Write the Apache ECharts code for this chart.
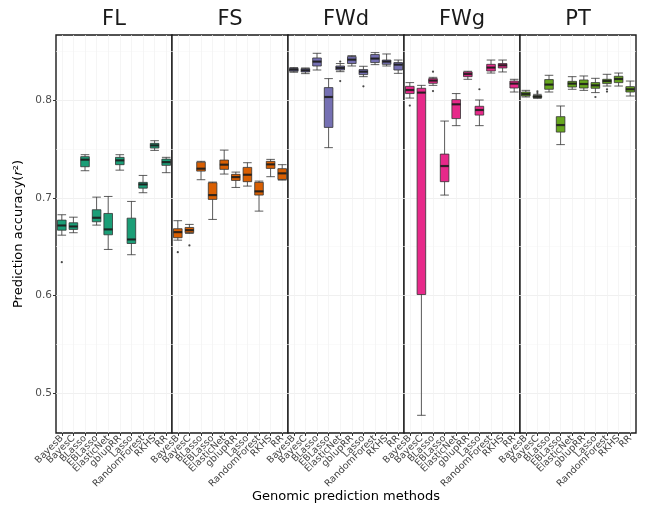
<!DOCTYPE html>
<html>
<head>
<meta charset="utf-8">
<script src="https://cdn.jsdelivr.net/npm/echarts@6/dist/echarts.min.js"></script>
<style>html,body{margin:0;padding:0;background:#fff}#c{width:650px;height:517px}</style>
</head>
<body>
<div id="c"></div>
<script>
const methods = ['BayesB','BayesC','BLasso','EBLasso','ElasticNet','gblupRR','Lasso','RandomForest','RKHS','RR'];
const traits = ['FL','FS','FWd','FWg','PT'];
const traitColors = ['#1b9e77','#d95f02','#7570b3','#e7298a','#66a61e'];
const yTicks = [0.5, 0.6, 0.7, 0.8];
const yMinor = [0.55, 0.65, 0.75, 0.85];

// [min, Q1, median, Q3, max] per method
const statsFL = [
  [0.6618,0.6669,0.6717,0.6772,0.6827],
  [0.6643,0.6677,0.6707,0.6745,0.6802],
  [0.7277,0.7318,0.7390,0.7421,0.7441],
  [0.6721,0.6755,0.6796,0.6878,0.7007],
  [0.6472,0.6622,0.6677,0.6840,0.7014],
  [0.7283,0.7339,0.7383,0.7414,0.7441],
  [0.6418,0.6533,0.6574,0.6792,0.6963],
  [0.7052,0.7099,0.7137,0.7158,0.7229],
  [0.7485,0.7509,0.7536,0.7557,0.7584],
  [0.7257,0.7332,0.7365,0.7396,0.7414]
];
const statsFS = [
  [0.6567,0.6592,0.6649,0.6684,0.6766],
  [0.6636,0.6643,0.6669,0.6697,0.6728],
  [0.7185,0.7273,0.7298,0.7365,0.7373],
  [0.6779,0.6984,0.7028,0.7154,0.7161],
  [0.7243,0.7291,0.7339,0.7386,0.7488],
  [0.7106,0.7178,0.7212,0.7240,0.7263],
  [0.7120,0.7165,0.7236,0.7311,0.7359],
  [0.6864,0.7028,0.7066,0.7158,0.7171],
  [0.7216,0.7301,0.7342,0.7373,0.7393],
  [0.7181,0.7188,0.7250,0.7298,0.7339]
];
const statsFWd = [
  [0.8284,0.8294,0.8311,0.8324,0.8332],
  [0.8270,0.8287,0.8304,0.8321,0.8328],
  [0.8307,0.8348,0.8393,0.8430,0.8478],
  [0.7513,0.7720,0.8031,0.8127,0.8219],
  [0.8290,0.8307,0.8328,0.8348,0.8373],
  [0.8348,0.8373,0.8413,0.8444,0.8454],
  [0.8239,0.8260,0.8290,0.8311,0.8345],
  [0.8362,0.8383,0.8424,0.8465,0.8485],
  [0.8348,0.8365,0.8393,0.8409,0.8471],
  [0.8273,0.8307,0.8362,0.8383,0.8409]
];
const statsFWg = [
  [0.8020,0.8066,0.8102,0.8140,0.8178],
  [0.4776,0.6011,0.8076,0.8120,0.8150],
  [0.8150,0.8171,0.8199,0.8219,0.8232],
  [0.7028,0.7165,0.7325,0.7447,0.7785],
  [0.7738,0.7810,0.7956,0.8004,0.8066],
  [0.8212,0.8239,0.8266,0.8287,0.8294],
  [0.7738,0.7846,0.7898,0.7936,0.8000],
  [0.8276,0.8297,0.8332,0.8365,0.8409],
  [0.8287,0.8328,0.8355,0.8373,0.8409],
  [0.8082,0.8123,0.8168,0.8194,0.8212]
];
const statsPT = [
  [0.8031,0.8041,0.8061,0.8082,0.8099],
  [0.8017,0.8025,0.8035,0.8045,0.8058],
  [0.8082,0.8110,0.8158,0.8209,0.8253],
  [0.7544,0.7672,0.7744,0.7830,0.7939],
  [0.8110,0.8133,0.8168,0.8191,0.8239],
  [0.8099,0.8123,0.8164,0.8205,0.8246],
  [0.8076,0.8120,0.8150,0.8178,0.8222],
  [0.8143,0.8168,0.8194,0.8212,0.8263],
  [0.8143,0.8178,0.8215,0.8243,0.8276],
  [0.8041,0.8082,0.8110,0.8137,0.8194]
];
// outliers: [method index, value]
const outFL = [[0,0.6342]];
const outFS = [[0,0.6444],[1,0.6513]];
const outFWd = [[4,0.8393],[4,0.8194],[6,0.8140]];
const outFWg = [[0,0.7943],[2,0.8290],[2,0.8092],[6,0.8110]];
const outPT = [[1,0.8089],[1,0.8072],[6,0.8031],[7,0.8110],[7,0.8086]];

const allStats = [statsFL, statsFS, statsFWd, statsFWg, statsPT];
const allOut = [outFL, outFS, outFWd, outFWg, outPT];

const FONT = 'DejaVu Sans';
const panelLeft = 56, panelW = 116, panelTop = 35, panelH = 398;
const boxW = 8.6;

const grids = [], xAxes = [], yAxes = [], series = [], graphics = [];
traits.forEach((t, i) => {
  grids.push({left: panelLeft + i*panelW, top: panelTop, width: panelW, height: panelH,
    show: true, borderColor: '#1a1a1a', borderWidth: 1.4, backgroundColor: '#fff', containLabel: false});
  xAxes.push({type: 'category', gridIndex: i, data: methods, boundaryGap: true,
    axisLine: {show: false},
    axisTick: {show: true, alignWithLabel: true, length: 3, lineStyle: {color: '#333'}},
    axisLabel: {interval: 0, rotate: 45, fontSize: 9.5, color: '#444', margin: 4, fontFamily: FONT},
    splitLine: {show: false}});
  yAxes.push({type: 'value', gridIndex: i, min: 0.4595, max: 0.8665, show: i === 0,
    axisLine: {show: false},
    axisTick: {show: true, length: 3, customValues: yTicks, lineStyle: {color: '#333'}},
    axisLabel: {customValues: yTicks, fontSize: 10.5, color: '#4d4d4d', margin: 4, fontFamily: FONT,
      formatter: v => v.toFixed(1)},
    splitLine: {show: false},
    name: i === 0 ? '{n|Prediction accuracy(}{i|r}{n|²)}' : '',
    nameLocation: 'middle', nameGap: 31, nameRotate: 90,
    nameTextStyle: {rich: {n: {fontSize: 13, color: '#000', fontFamily: FONT}, i: {fontSize: 13, fontStyle: 'italic', color: '#000', fontFamily: FONT}}}
  });
  const mlData = [];
  yTicks.forEach(v => mlData.push({yAxis: v, lineStyle: {color: '#ececec', width: 0.8, type: 'solid'}}));
  yMinor.forEach(v => mlData.push({yAxis: v, lineStyle: {color: '#f6f6f6', width: 0.6, type: 'solid'}}));
  methods.forEach(m => mlData.push({xAxis: m, lineStyle: {color: '#f1f1f1', width: 0.7, type: 'solid'}}));
  series.push({type: 'boxplot', xAxisIndex: i, yAxisIndex: i, data: allStats[i], z: 3,
    boxWidth: [boxW, boxW],
    itemStyle: {color: traitColors[i], borderColor: '#333', borderWidth: 0.8},
    emphasis: {disabled: true},
    markLine: {silent: true, symbol: 'none', z: 1, label: {show: false}, animation: false, data: mlData}
  });
  series.push({type: 'scatter', xAxisIndex: i, yAxisIndex: i, z: 4, silent: true,
    symbol: 'rect', symbolSize: [boxW, 2.2], itemStyle: {color: '#1a1a1a'},
    data: allStats[i].map((s, k) => [k, s[2]])});
  series.push({type: 'scatter', xAxisIndex: i, yAxisIndex: i, z: 4, silent: true,
    symbol: 'circle', symbolSize: 2.2, itemStyle: {color: '#1a1a1a'},
    data: allOut[i]});
  graphics.push({type: 'text', x: panelLeft + i*panelW + panelW/2, y: 20,
    style: {text: t, fontSize: 21, fontFamily: FONT, fill: '#1a1a1a', textAlign: 'center', textVerticalAlign: 'middle'}});
});
graphics.push({type: 'text', x: panelLeft + 5*panelW/2, y: 497,
  style: {text: 'Genomic prediction methods', fontSize: 13, fontFamily: FONT, fill: '#000', textAlign: 'center', textVerticalAlign: 'middle'}});

const chart = echarts.init(document.getElementById('c'), null, {renderer: 'canvas'});
chart.setOption({
  animation: false,
  backgroundColor: '#fff',
  textStyle: {fontFamily: FONT},
  grid: grids, xAxis: xAxes, yAxis: yAxes, series: series, graphic: graphics
});
</script>
</body>
</html>
